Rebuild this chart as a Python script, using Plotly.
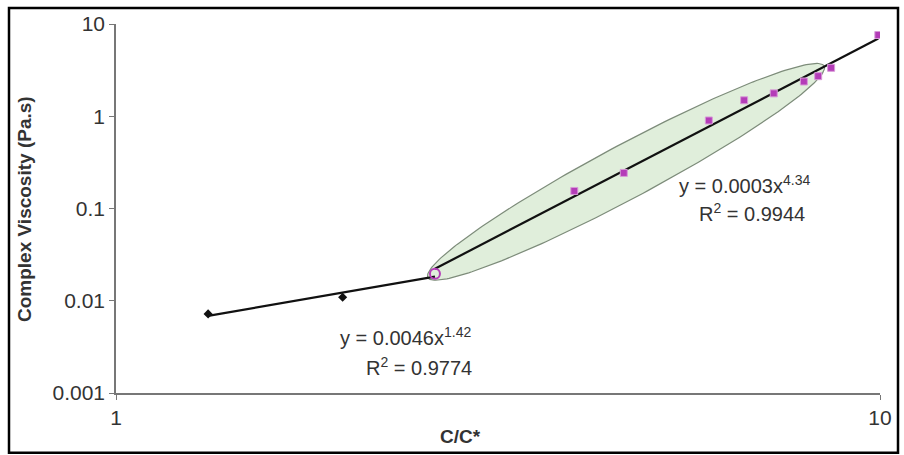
import numpy as np
import plotly.graph_objects as go

# ---- data ----
dilute_x = [1.32, 1.98, 2.615]
dilute_y = [0.0072, 0.0109, 0.0196]

conc_x = [2.615, 3.98, 4.62, 5.97, 6.64, 7.26, 7.95, 8.30, 8.63, 9.95]
conc_y = [0.0196, 0.155, 0.243, 0.90, 1.49, 1.77, 2.38, 2.72, 3.35, 7.6]

x_tickvals = [1, 10]
x_ticktext = ["1", "10"]
y_tickvals = [0.001, 0.01, 0.1, 1, 10]
y_ticktext = ["0.001", "0.01", "0.1", "1", "10"]

eq_low = ["y = 0.0046x<sup>1.42</sup>", "R<sup>2</sup> = 0.9774"]
eq_high = ["y = 0.0003x<sup>4.34</sup>", "R<sup>2</sup> = 0.9944"]
x_title = "<b>C/C*</b>"
y_title = "<b>Complex Viscosity (Pa.s)</b>"

# ---- layout geometry ----
W, H = 904, 455
ML, MR, MT, MB = 116, 24, 22, 62
PW, PH = W - ML - MR, H - MT - MB
XDEC, YDEC = 1.0, 4.0
XR, YR = [0, 1], [-3, 1]


def to_px(x, y):
    return ML + (np.log10(x) - XR[0]) / XDEC * PW, MT + (YR[1] - np.log10(y)) / YDEC * PH


def from_px(px, py):
    return 10 ** (XR[0] + (px - ML) / PW * XDEC), 10 ** (YR[1] - (py - MT) / PH * YDEC)


def paper_x(px):
    return (px - ML) / PW


def paper_y(py):
    return 1 - (py - MT) / PH


def fit(xs, ys, x0, x1):
    p = np.polyfit(np.log10(xs), np.log10(ys), 1)
    xx = np.array([x0, x1])
    return xx, 10 ** np.polyval(p, np.log10(xx))


fig = go.Figure()

# ellipse highlighting the concentrated regime
tipA = to_px(2.56, 0.0178)
tipB = to_px(8.45, 3.5)
cx, cy = (tipA[0] + tipB[0]) / 2, (tipA[1] + tipB[1]) / 2
a = np.hypot(tipB[0] - tipA[0], tipB[1] - tipA[1]) / 2
b = 27
ang = np.arctan2(tipB[1] - tipA[1], tipB[0] - tipA[0])
t = np.linspace(0, 2 * np.pi, 240)
ex = cx + a * np.cos(t) * np.cos(ang) - b * np.sin(t) * np.sin(ang)
ey = cy + a * np.cos(t) * np.sin(ang) + b * np.sin(t) * np.cos(ang)
elx, ely = from_px(ex, ey)
fig.add_trace(go.Scatter(x=elx, y=ely, mode="lines", fill="toself",
                         fillcolor="#e0eedb", line=dict(color="#7d8c7a", width=1.2),
                         hoverinfo="skip", showlegend=False))

# trend lines (power fits in log space)
lx, ly = fit(dilute_x, dilute_y, dilute_x[0], dilute_x[-1])
fig.add_trace(go.Scatter(x=lx, y=ly, mode="lines", line=dict(color="#111", width=2.2),
                         showlegend=False))
hx, hy = fit(conc_x, conc_y, conc_x[0], conc_x[-1])
fig.add_trace(go.Scatter(x=hx, y=hy, mode="lines", line=dict(color="#111", width=2.2),
                         showlegend=False))

# markers
fig.add_trace(go.Scatter(x=dilute_x[:-1], y=dilute_y[:-1], mode="markers",
                         marker=dict(symbol="diamond", size=7, color="#111"),
                         showlegend=False))
fig.add_trace(go.Scatter(x=conc_x[1:], y=conc_y[1:], mode="markers",
                         marker=dict(symbol="square", size=7, color="#b43cb8",
                                     line=dict(color="#d89ad8", width=1)),
                         showlegend=False))
fig.add_trace(go.Scatter(x=[conc_x[0]], y=[conc_y[0]], mode="markers",
                         marker=dict(symbol="circle-open", size=10, color="#b43cb8",
                                     line=dict(width=2)),
                         showlegend=False))

ann_font = dict(family="Liberation Sans, Arial, sans-serif", size=20, color="#333")
title_font = dict(family="Liberation Sans, Arial, sans-serif", size=19, color="#333")
annotations = [
    dict(x=paper_x(338), y=paper_y(336), xref="paper", yref="paper", text=eq_low[0],
         showarrow=False, xanchor="left", yanchor="middle", font=ann_font),
    dict(x=paper_x(364), y=paper_y(366), xref="paper", yref="paper", text=eq_low[1],
         showarrow=False, xanchor="left", yanchor="middle", font=ann_font),
    dict(x=paper_x(677), y=paper_y(183), xref="paper", yref="paper", text=eq_high[0],
         showarrow=False, xanchor="left", yanchor="middle", font=ann_font),
    dict(x=paper_x(697), y=paper_y(212), xref="paper", yref="paper", text=eq_high[1],
         showarrow=False, xanchor="left", yanchor="middle", font=ann_font),
    dict(x=paper_x(460), y=paper_y(437), xref="paper", yref="paper", text=x_title,
         showarrow=False, xanchor="center", yanchor="middle", font=title_font),
    dict(x=paper_x(25), y=paper_y(208), xref="paper", yref="paper", text=y_title,
         showarrow=False, xanchor="center", yanchor="middle", textangle=-90,
         font=title_font),
]

fig.update_layout(
    width=W, height=H,
    margin=dict(l=ML, r=MR, t=MT, b=MB, pad=0),
    paper_bgcolor="white", plot_bgcolor="white",
    font=dict(family="Liberation Sans, Arial, sans-serif", color="#333"),
    annotations=annotations,
    shapes=[dict(type="rect", xref="paper", yref="paper",
                 x0=paper_x(9), x1=paper_x(898), y0=paper_y(6), y1=paper_y(453),
                 line=dict(color="black", width=2.5), layer="above")],
    xaxis=dict(type="log", range=XR, tickvals=x_tickvals, ticktext=x_ticktext,
               showgrid=False, zeroline=False, showline=True, linecolor="#777",
               linewidth=1.5, ticks="outside", ticklen=5, tickcolor="#777",
               tickfont=dict(size=21, color="#333")),
    yaxis=dict(type="log", range=YR, tickvals=y_tickvals, ticktext=y_ticktext,
               showgrid=False, zeroline=False, showline=True, linecolor="#777",
               linewidth=1.5, ticks="outside", ticklen=5, tickcolor="#777",
               tickfont=dict(size=21, color="#333")),
)

fig.write_html("out.html")
